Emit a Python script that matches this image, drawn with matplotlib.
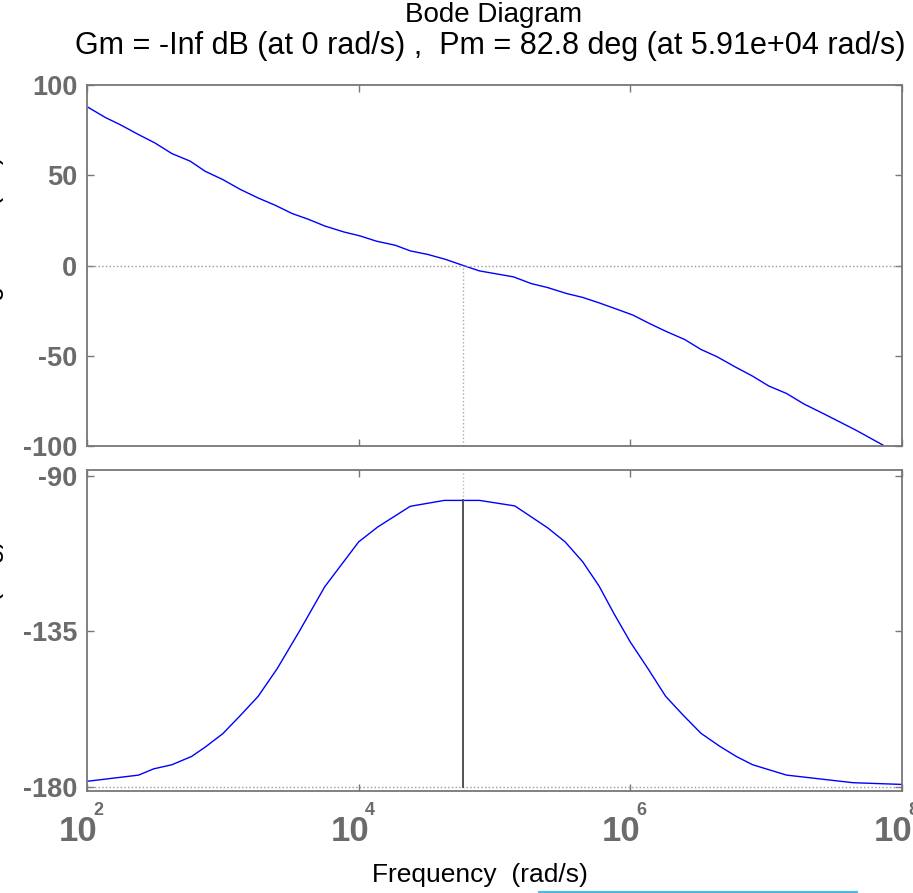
import numpy as np
import matplotlib
matplotlib.use("Agg")
import matplotlib.pyplot as plt
from matplotlib.lines import Line2D
from matplotlib.transforms import blended_transform_factory, offset_copy

plt.rcParams["font.family"] = ["Liberation Sans", "DejaVu Sans"]

# magnitude response, log10(w) vs dB
mag_logw = [2.007, 2.135, 2.245, 2.38, 2.50, 2.625, 2.76, 2.87, 3.00, 3.13,
            3.26, 3.385, 3.51, 3.63, 3.75, 3.89, 4.01, 4.13, 4.27, 4.38,
            4.51, 4.635, 4.77, 4.89, 5.14, 5.27, 5.39, 5.53, 5.65, 5.77,
            5.90, 6.02, 6.14, 6.26, 6.40, 6.52, 6.64, 6.77, 6.90, 7.02,
            7.15, 7.28, 7.42, 7.54, 7.66, 7.86]
mag_db = [87.7, 82.0, 78.0, 72.5, 67.9, 62.0, 57.8, 52.2, 47.6, 42.1,
          37.4, 33.4, 28.8, 25.6, 21.9, 18.6, 16.4, 13.5, 11.2, 8.1,
          6.1, 3.5, 0.0, -3.0, -6.3, -10.0, -12.2, -15.5, -17.7, -20.7,
          -24.2, -27.5, -32.1, -36.4, -41.0, -46.5, -50.6, -56.1, -61.3, -66.8,
          -70.9, -76.8, -82.0, -86.6, -91.2, -99.5]

# phase response, log10(w) vs deg
phase_logw = [2.00, 2.38, 2.49, 2.625, 2.77, 2.87, 3.00, 3.13, 3.26, 3.40,
              3.56, 3.75, 4.00, 4.14, 4.38, 4.63, 4.89, 5.15, 5.39, 5.52,
              5.65, 5.77, 5.88, 6.00, 6.13, 6.26, 6.39, 6.52, 6.66, 6.78,
              6.90, 7.15, 7.64, 8.00]
phase_deg = [-178.5, -176.7, -174.9, -173.7, -171.3, -168.6, -164.7, -159.4, -153.9, -145.9,
             -135.3, -122.2, -109.2, -104.9, -98.9, -97.2, -97.2, -98.8, -105.1, -109.2,
             -115.0, -122.0, -130.0, -138.2, -145.9, -153.9, -159.4, -164.6, -168.4, -171.3,
             -173.7, -176.7, -178.9, -179.4]

# stability margins
wc = 5.91e4
pm = 82.8

xticks = [1e2, 1e4, 1e6, 1e8]
xtick_exp = ["2", "4", "6", "8"]
mag_ticks = [-100, -50, 0, 50, 100]
phase_ticks = [-180, -135, -90]

W, H = 913, 893
fig = plt.figure(figsize=(W / 100, H / 100), dpi=100)
ax_mag = fig.add_axes([87 / W, 1 - 446 / H, 815 / W, 361 / H])
ax_ph = fig.add_axes([87 / W, 1 - 791 / H, 815 / W, 321 / H])

frame = "#777777"
label_gray = "#6b6b6b"
narrow = ["Liberation Sans Narrow", "Liberation Sans", "DejaVu Sans"]

for ax in (ax_mag, ax_ph):
    ax.set_xscale("log")
    ax.set_xlim(1e2, 1e8)
    ax.set_xticks(xticks)
    ax.set_xticklabels([])
    ax.minorticks_off()
    ax.tick_params(which="both", direction="in", length=5, width=1,
                   color=frame, top=True, right=True,
                   labelcolor=label_gray, labelsize=19.5, pad=7)
    for s in ax.spines.values():
        s.set_color(frame)
        s.set_linewidth(1.3)

ax_mag.plot(10 ** np.array(mag_logw), mag_db, color="#0000ff", lw=1.0)
ax_mag.set_ylim(-100, 100)
ax_mag.set_yticks(mag_ticks)
ax_mag.set_yticklabels([str(t) for t in mag_ticks], fontweight="bold")
ax_mag.axhline(0, color="#999999", lw=1, ls=":")
ax_mag.plot([wc, wc], [-100, 0], color="#aaaaaa", lw=1, ls=":")

ax_ph.plot(10 ** np.array(phase_logw), phase_deg, color="#0000ff", lw=1.0)
ax_ph.set_ylim(-181.3, -88.4)
ax_ph.set_yticks(phase_ticks)
ax_ph.set_yticklabels([str(t) for t in phase_ticks], fontweight="bold")
ax_ph.axhline(-180, color="#999999", lw=1, ls=":")
ax_ph.plot([wc, wc], [-180 + pm, -88.4], color="#bbbbbb", lw=1, ls=":")
ax_ph.plot([wc, wc], [-180, -180 + pm], color="#444444", lw=1.3)

# decade labels: base "10" plus a small raised exponent
trans = blended_transform_factory(ax_ph.transData, ax_ph.transAxes)
for t, e in zip(xticks, xtick_exp):
    ax_ph.text(t, 0, "10", transform=offset_copy(trans, fig, x=-9, y=-50, units="dots"),
               ha="center", va="baseline", fontsize=25, fontweight="bold",
               family=narrow, color=label_gray, clip_on=False)
    ax_ph.text(t, 0, e, transform=offset_copy(trans, fig, x=6, y=-24, units="dots"),
               ha="left", va="baseline", fontsize=13, fontweight="bold",
               family=narrow, color=label_gray, clip_on=False)

fig.text(494 / W, 1 - 22 / H, "Bode Diagram", ha="center", va="baseline",
         fontsize=20)
fig.text(490 / W, 1 - 54 / H,
         "Gm = -Inf dB (at 0 rad/s) ,  Pm = 82.8 deg (at 5.91e+04 rad/s)",
         ha="center", va="baseline", fontsize=22)
fig.text(480 / W, 1 - 882 / H, "Frequency  (rad/s)", ha="center",
         va="baseline", fontsize=19)

# y labels sit mostly beyond the left edge
fig.text(4 / W, 1 - 247 / H, "Magnitude (dB)", rotation=90, ha="right",
         va="center", fontsize=19.3)
fig.text(4 / W, 1 - 612 / H, "Phase (deg)", rotation=90, ha="right",
         va="center", fontsize=19.3)

fig.add_artist(Line2D([539 / W, 856 / W], [1.5 / H, 1.5 / H],
                      color="#4db8e8", lw=2.2))

fig.savefig("out.png", dpi=100)
